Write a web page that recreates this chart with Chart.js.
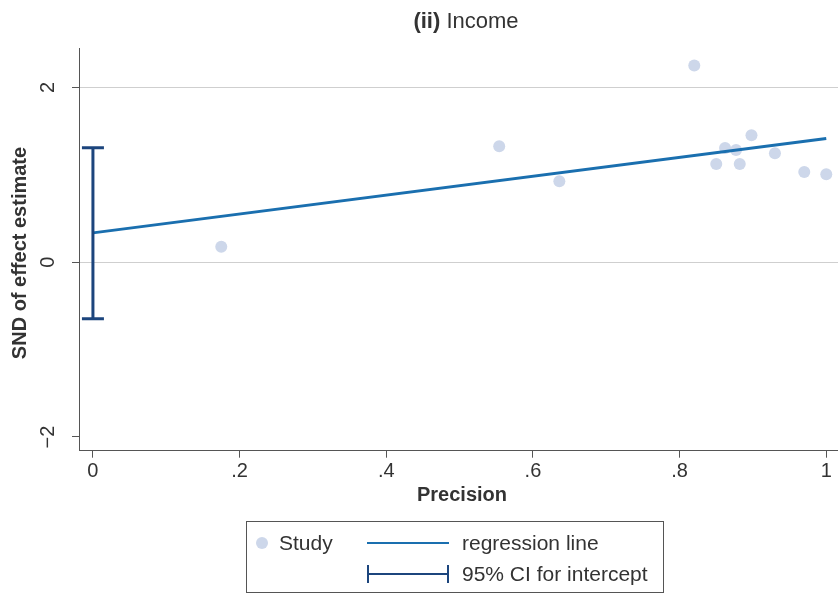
<!DOCTYPE html>
<html><head><meta charset="utf-8">
<script src="https://cdn.jsdelivr.net/npm/chart.js@4"></script>
<style>html,body{margin:0;padding:0;background:#fff}#wrap{width:838px;height:596px;position:relative}</style>
</head><body><div id="wrap"><canvas id="c" width="838" height="596"></canvas></div>
<script>
// ---- data ----
const precision = [0.175, 0.554, 0.636, 0.820, 0.850, 0.862, 0.877, 0.882, 0.898, 0.930, 0.970, 1.000];
const sndEffect = [0.175, 1.326, 0.926, 2.251, 1.124, 1.306, 1.283, 1.124, 1.451, 1.246, 1.032, 1.006];
const regressionIntercept = 0.335;
const regressionSlope = 1.079;
const interceptCI = [-0.648, 1.31];
const xTicks = [0, 0.2, 0.4, 0.6, 0.8, 1];
const xTickLabels = ['0', '.2', '.4', '.6', '.8', '1'];
const yTicks = [-2, 0, 2];
const yTickLabels = ['\u22122', '0', '2'];
const labels = {
  titleBold: '(ii)', titleRest: ' Income',
  xTitle: 'Precision', yTitle: 'SND of effect estimate',
  study: 'Study', reg: 'regression line', ci: '95% CI for intercept'
};

const FONT = '"Liberation Sans", Arial, sans-serif';
const C_POINT = '#cdd7ea', C_REG = '#1a6faf', C_CI = '#1c457d', C_TXT = '#333333';

const regData = [0, 1].map(x => ({x, y: regressionIntercept + regressionSlope * x}));
const ciData = interceptCI.map(y => ({x: 0, y}));
const pts = precision.map((x, i) => ({x, y: sndEffect[i]}));

const deco = {
  id: 'deco',
  afterDraw(chart) {
    const ctx = chart.ctx, ys = chart.scales.y;
    ctx.save();
    ctx.fillStyle = C_TXT;
    // title
    ctx.textBaseline = 'middle';
    ctx.font = 'bold 22px ' + FONT;
    const wb = ctx.measureText(labels.titleBold).width;
    ctx.font = '22px ' + FONT;
    const wr = ctx.measureText(labels.titleRest).width;
    const tx = 466 - (wb + wr) / 2;
    ctx.textAlign = 'left';
    ctx.font = 'bold 22px ' + FONT;
    ctx.fillText(labels.titleBold, tx, 22);
    ctx.font = '22px ' + FONT;
    ctx.fillText(labels.titleRest, tx + wb, 22);
    // y tick labels (rotated)
    ctx.font = '20px ' + FONT;
    ctx.textAlign = 'center';
    yTicks.forEach((v, i) => {
      const py = ys.getPixelForValue(v);
      ctx.save(); ctx.translate(58, py); ctx.rotate(-Math.PI / 2);
      ctx.textBaseline = 'bottom';
      ctx.fillText(yTickLabels[i], 0, 0);
      ctx.restore();
    });
    // axis titles
    ctx.font = 'bold 20px ' + FONT;
    ctx.textBaseline = 'middle';
    ctx.fillText(labels.xTitle, 462, 495);
    ctx.save(); ctx.translate(20, 253); ctx.rotate(-Math.PI / 2);
    ctx.fillText(labels.yTitle, 0, 0); ctx.restore();
    // legend
    ctx.strokeStyle = '#555'; ctx.lineWidth = 1;
    ctx.strokeRect(246.5, 521.5, 417, 71);
    ctx.fillStyle = C_POINT;
    ctx.beginPath(); ctx.arc(262, 543, 6, 0, Math.PI * 2); ctx.fill();
    ctx.fillStyle = C_TXT; ctx.font = '21px ' + FONT; ctx.textAlign = 'left';
    ctx.fillText(labels.study, 279, 544);
    ctx.strokeStyle = C_REG; ctx.lineWidth = 2;
    ctx.beginPath(); ctx.moveTo(367, 543); ctx.lineTo(449, 543); ctx.stroke();
    ctx.fillText(labels.reg, 462, 544);
    ctx.strokeStyle = C_CI; ctx.lineWidth = 2;
    ctx.beginPath(); ctx.moveTo(367, 574); ctx.lineTo(449, 574);
    ctx.moveTo(368, 565); ctx.lineTo(368, 583);
    ctx.moveTo(448, 565); ctx.lineTo(448, 583); ctx.stroke();
    ctx.fillText(labels.ci, 462, 575);
    ctx.restore();
  }
};

new Chart(document.getElementById('c'), {
  type: 'scatter',
  data: {
    datasets: [
      { type: 'line', label: labels.ci, data: ciData, borderColor: C_CI, backgroundColor: C_CI,
        borderWidth: 3, pointStyle: 'line', pointRadius: 11, pointBorderWidth: 3, pointBorderColor: C_CI, showLine: true },
      { type: 'line', label: labels.reg, data: regData, borderColor: C_REG, borderWidth: 3, pointRadius: 0, showLine: true },
      { label: labels.study, data: pts, backgroundColor: C_POINT, borderWidth: 0, pointRadius: 6 }
    ]
  },
  options: {
    responsive: false, animation: false, devicePixelRatio: 1,
    layout: { autoPadding: false, padding: { top: 48, left: 0, right: 0, bottom: 0 } },
    plugins: { legend: { display: false }, title: { display: false }, tooltip: { enabled: false } },
    scales: {
      x: {
        type: 'linear', min: -0.019, max: 1.016,
        afterBuildTicks: s => { s.ticks = xTicks.map(v => ({value: v})); },
        afterFit: s => { s.height = 145.3; s.paddingLeft = 0; s.paddingRight = 0; },
        ticks: { callback: (v) => xTickLabels[xTicks.indexOf(v)] ?? '', font: { family: FONT, size: 20 }, color: C_TXT, padding: 2, maxRotation: 0, autoSkip: false },
        grid: { display: true, drawOnChartArea: false, drawTicks: true, tickLength: 7, tickColor: '#555', tickWidth: 1 },
        border: { display: true, color: '#555', width: 1 }
      },
      y: {
        type: 'linear', min: -2.157, max: 2.45,
        afterBuildTicks: s => { s.ticks = yTicks.map(v => ({value: v})); },
        afterFit: s => { s.width = 79; s.paddingTop = 0; s.paddingBottom = 0; },
        ticks: { display: false },
        grid: { color: ctx => (ctx.tick && ctx.tick.value === -2) ? 'rgba(0,0,0,0)' : '#cfcfcf', lineWidth: 1,
                drawTicks: true, tickLength: 7, tickColor: '#555', tickWidth: 1 },
        border: { display: true, color: '#555', width: 1 }
      }
    }
  },
  plugins: [deco]
});
</script></body></html>
